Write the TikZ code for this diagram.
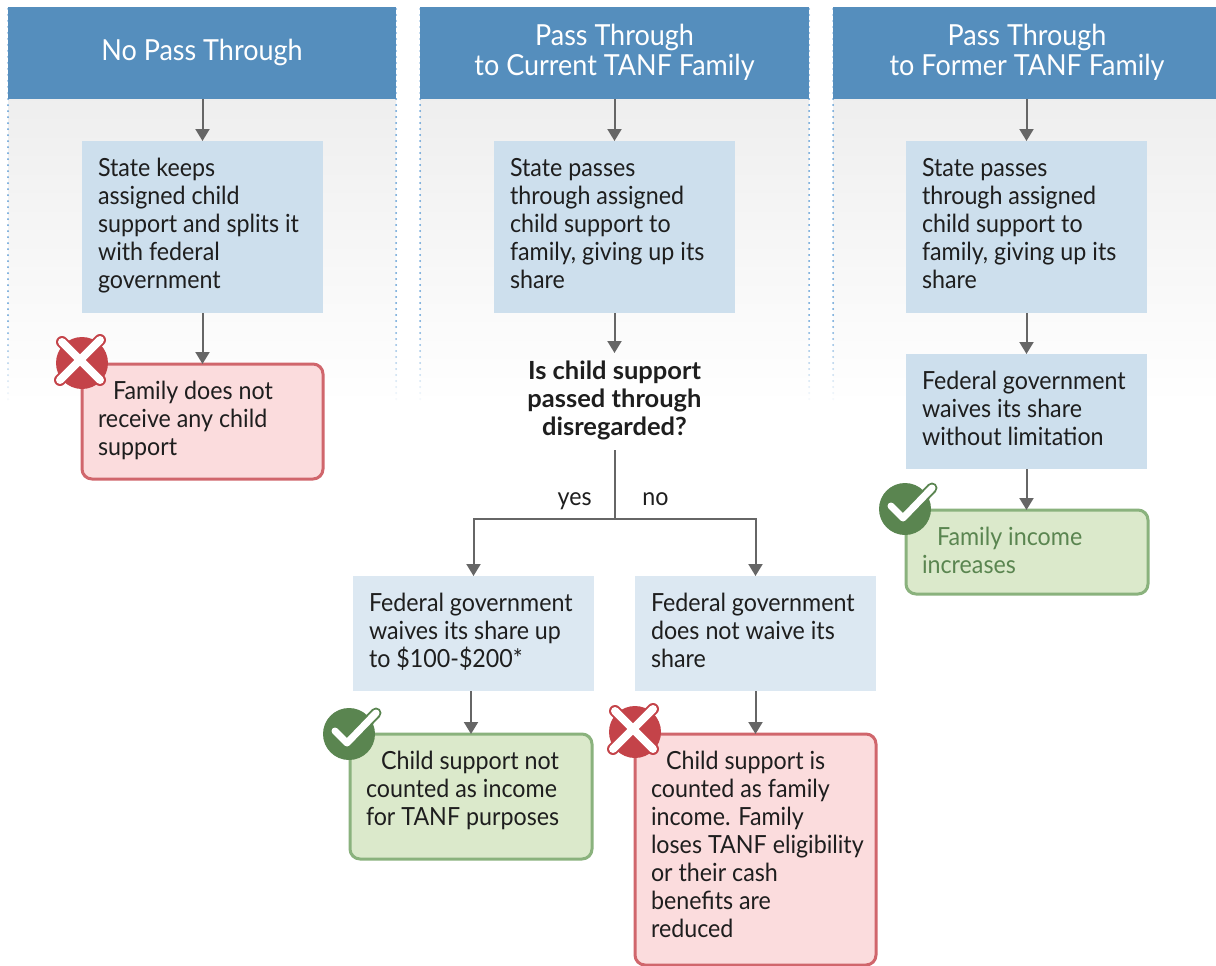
\documentclass[tikz,border=0pt]{standalone}
\usepackage{fontspec}
\setmainfont[FakeStretch=0.93]{Lato}
\newfontfamily\qfont[FakeStretch=1.02]{Lato}
\usetikzlibrary{arrows.meta}
\definecolor{hdr}{HTML}{558EBD}
\definecolor{blueA}{HTML}{CDDFED}
\definecolor{blueB}{HTML}{DCE8F2}
\definecolor{redF}{HTML}{FBDCDD}
\definecolor{redL}{HTML}{D0666C}
\definecolor{redI}{HTML}{C44349}
\definecolor{greenF}{HTML}{DBE9CB}
\definecolor{greenL}{HTML}{8AB27D}
\definecolor{greenI}{HTML}{5A8550}
\definecolor{greenT}{HTML}{5A8550}
\definecolor{ink}{HTML}{1E1E1E}
\definecolor{arrowc}{HTML}{666666}
\definecolor{dotc}{HTML}{5B9BD5}
\tikzset{
  x=1pt,y=-1pt,
  every node/.style={inner ysep=0pt,outer sep=0pt,anchor=north west,text=ink},
  blueone/.style={fill=blueA,inner xsep=16pt},
  bluetwo/.style={fill=blueB,inner xsep=16pt},
  redbox/.style={fill=redF,draw=redL,line width=3pt,rounded corners=10pt,inner xsep=16pt},
  greenbox/.style={fill=greenF,draw=greenL,line width=3pt,rounded corners=10pt,inner xsep=16pt,text=greenT},
  headbox/.style={fill=hdr,inner xsep=0pt,text=white},
  plain/.style={inner xsep=0pt},
  conn/.style={draw=arrowc,line width=2pt,-{Triangle[length=12pt,width=14pt]}},
  connline/.style={draw=arrowc,line width=2pt},
}
% body box: name, style, x0, y0, x1, y1, text
\newcommand{\bodybox}[7]{%
  \pgfmathsetlengthmacro{\bw}{#5-#3-32}\pgfmathsetlengthmacro{\bh}{#6-#4}%
  \node[#2] (#1) at (#3,#4) {\parbox[t][\bh][t]{\bw}{\fontsize{25}{28}\selectfont\raggedright\rule{0pt}{35pt}#7}};}
\newcommand{\headbox}[7]{%
  \pgfmathsetlengthmacro{\bw}{#5-#3}\pgfmathsetlengthmacro{\bh}{#6-#4}%
  \node[headbox] (#1) at (#3,#4) {\parbox[t][\bh][t]{\bw}{\fontsize{29}{30}\selectfont\centering\rule{0pt}{#2pt}#7}};}
\newcommand{\dotline}[1]{%
  \foreach \yy in {9,15,...,405}{%
    \ifnum\yy<99 \def\fd{70}\else
      \pgfmathtruncatemacro{\fd}{\yy<320 ? 100 : 100-(\yy-320)/85*100}\fi
    \fill[dotc!\fd!white] (#1,\yy) circle (1pt);}}
\newcommand{\xicon}[2]{%
  \begin{scope}[shift={(#1,#2)}]
    \fill[redI] (0,0) circle (26pt);
    \draw[redI,line width=12pt,line cap=round] (-20,-21)--(18,17) (18,-23)--(-22,17);
    \draw[white,line width=8pt,line cap=round] (-20,-21)--(18,17) (18,-23)--(-22,17);
  \end{scope}}
\newcommand{\cicon}[2]{%
  \begin{scope}[shift={(#1,#2)}]
    \fill[greenI] (0,0) circle (26pt);
    \draw[greenI,line width=11pt,line cap=round,line join=round] (-14,-3)--(-2,9)--(27,-21);
    \draw[white,line width=7pt,line cap=round,line join=round] (-14,-3)--(-2,9)--(27,-21);
  \end{scope}}
\begin{document}
\begin{tikzpicture}
\useasboundingbox (0,0) rectangle (1216,966);
\clip (0,0) rectangle (1216,966);
\fill[white] (0,0) rectangle (1216,966);
% column backgrounds
\foreach \a/\b in {8/396,420/809,833/1221}{
  \shade[top color=black!6.5,bottom color=white] (\a,99) rectangle (\b,405);
}
\dotline{8}\dotline{396}\dotline{420}\dotline{809}\dotline{833}
% headers
\headbox{h1}{54}{8}{7}{396}{99}{No Pass Through}
\headbox{h2}{39}{420}{7}{809}{99}{Pass Through\\to Current TANF Family}
\headbox{h3}{39}{833}{7}{1221}{99}{Pass Through\\to Former TANF Family}
% boxes
\bodybox{a1}{blueone}{82}{141}{323}{313}{State keeps\\assigned child\\support and splits it\\with federal\\government}
\bodybox{a2}{redbox}{82}{364}{323}{479}{\hspace*{15pt}Family does not\\receive any child\\support}
\bodybox{b1}{blueone}{494}{141}{735}{313}{State passes\\through assigned\\child support to\\family, giving up its\\share}
\node[plain] (q) at (514.5,353) {\parbox[t][97pt][t]{200pt}{\fontsize{25}{28}\selectfont\centering\qfont\bfseries\rule{0pt}{26pt}Is child support\\passed through\\disregarded?}};
\bodybox{b2}{bluetwo}{353}{576}{594}{691}{Federal government\\waives its share up\\to \$100-\$200*}
\bodybox{b3}{bluetwo}{635}{576}{876}{691}{Federal government\\does not waive its\\share}
\bodybox{b4}{greenbox,text=ink}{350}{734}{592}{859}{\hspace*{15pt}Child support not\\counted as income\\for TANF purposes}
\bodybox{b5}{redbox}{635}{734}{876}{965}{\hspace*{15pt}Child support is\\counted as family\\income. Family\\\mbox{loses TANF eligibility}\\or their cash\\benefits are\\reduced}
\bodybox{c1}{blueone}{906}{141}{1147}{313}{State passes\\through assigned\\child support to\\family, giving up its\\share}
\bodybox{c2}{blueone}{906}{354}{1147}{469}{Federal government\\waives its share\\without limitation}
\bodybox{c3}{greenbox}{906}{510}{1148}{594}{\hspace*{15pt}Family income\\increases}
% branch labels
\node[anchor=base east,font=\fontsize{25}{28}\selectfont] (yes) at (595,505) {yes};
\node[anchor=base west,font=\fontsize{25}{28}\selectfont] (no) at (639,505) {no};
\coordinate (fork) at (q.south |- 0,519);
% connectors
\draw[conn] (h1.south -| a1.north) -- (a1.north);
\draw[conn] (a1.south) -- (a2.north);
\draw[conn] (h2.south -| b1.north) -- (b1.north);
\draw[conn] (b1.south) -- (q.north);
\draw[connline] (q.south) -- (fork);
\draw[conn] (fork) -| (b2.north);
\draw[conn] (fork) -| (b3.north);
\draw[conn] (b2.south -| b4.north) -- (b4.north);
\draw[conn] (b3.south -| b5.north) -- (b5.north);
\draw[conn] (h3.south -| c1.north) -- (c1.north);
\draw[conn] (c1.south) -- (c2.north);
\draw[conn] (c2.south) -- (c2.south |- c3.north);
% icons
\xicon{82}{363}
\xicon{635}{732}
\cicon{349}{734}
\cicon{905}{509}
\end{tikzpicture}
\end{document}
